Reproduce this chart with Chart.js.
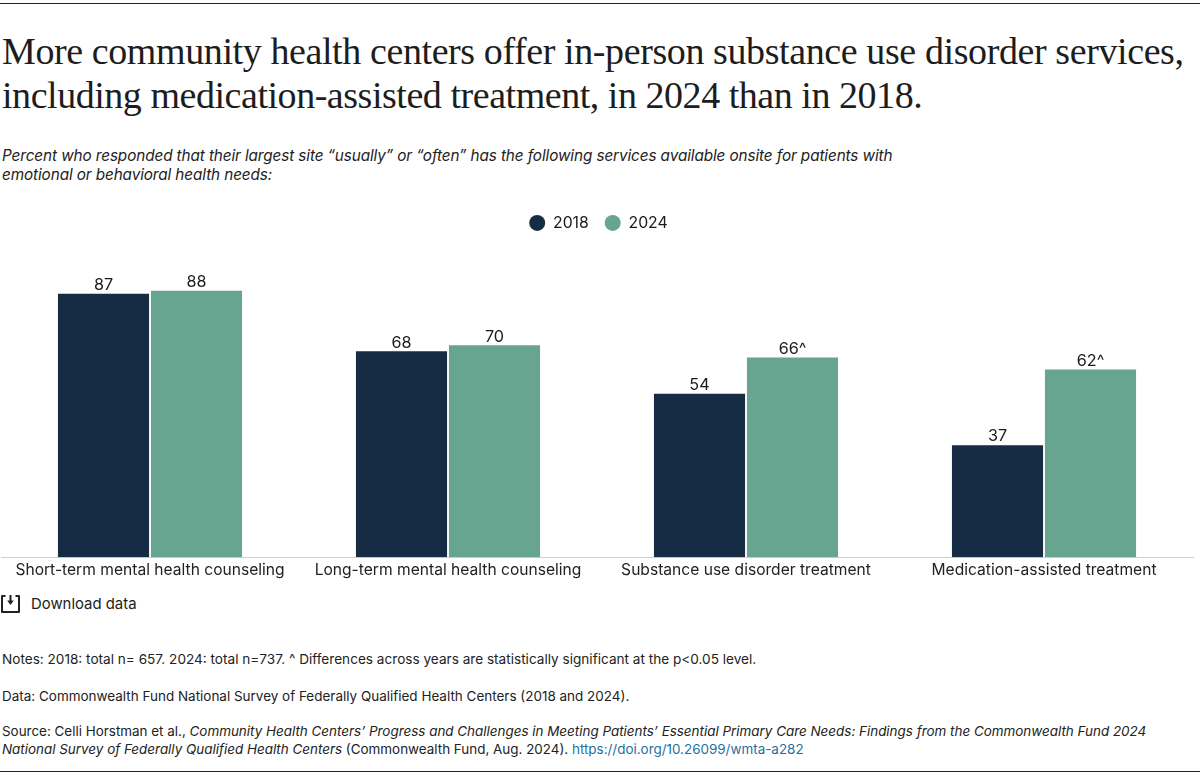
<!DOCTYPE html>
<html><head><meta charset="utf-8">
<script src="https://cdn.jsdelivr.net/npm/chart.js@4"></script>
<style>
html,body{margin:0;padding:0;background:#fff;width:1200px;height:775px;overflow:hidden}
body{position:relative;font-family:Inter,sans-serif;color:#1b1b1b}
.abs{position:absolute;white-space:nowrap}
.rule{position:absolute;left:0;width:1200px;height:1px;background:#222}
#title{left:2px;top:29px;font:38px/44px "Liberation Serif",serif;letter-spacing:-.4px;color:#1d1d1d}
#sub{left:2px;top:146px;font:italic 15.3px/19px Inter,sans-serif;letter-spacing:-.1px;color:#222}
#dl{left:31px;top:595px;font:14.9px/18px Inter,sans-serif;color:#222}
#icon{position:absolute;left:0;top:594px}
.note{left:2px;font:13.6px/18px Inter,sans-serif;color:#222}
a{color:#1f6f9f;text-decoration:none}
canvas{position:absolute;left:0;top:199px}
</style></head><body>
<div class="rule" style="top:3px"></div>
<div class="rule" style="top:771px"></div>
<div id="title" class="abs">More community health centers offer in-person substance use disorder services,<br><span style="letter-spacing:-.46px">including medication-assisted treatment, in 2024 than in 2018.</span></div>
<div id="sub" class="abs">Percent who responded that their largest site “usually” or “often” has the following services available onsite for patients with<br>emotional or behavioral health needs:</div>
<canvas id="c" width="1200" height="385"></canvas>
<svg id="icon" width="22" height="20" viewBox="0 0 22 20" fill="none" stroke="#222" stroke-width="2" stroke-linejoin="round"><path d="M5.5 2H2v16h17V2h-3.5"/><path d="M10.5 1v7"/><path d="M7.2 6.5h6.6L10.5 11z" fill="#222" stroke="none"/></svg>
<div id="dl" class="abs">Download data</div>
<div class="abs note" style="top:650px">Notes: 2018: total n= 657. 2024: total n=737. ^ Differences across years are statistically significant at the p&lt;0.05 level.</div>
<div class="abs note" style="top:687px;font-size:13.47px">Data: Commonwealth Fund National Survey of Federally Qualified Health Centers (2018 and 2024).</div>
<div class="abs note" style="top:722px;font-size:13.43px">Source: Celli Horstman et al., <i>Community Health Centers’ Progress and Challenges in Meeting Patients’ Essential Primary Care Needs: Findings from the Commonwealth Fund 2024</i><br><i>National Survey of Federally Qualified Health Centers</i> (Commonwealth Fund, Aug. 2024). <a href="#">https://doi.org/10.26099/wmta-a282</a></div>
<script>
const categories = ["Short-term mental health counseling","Long-term mental health counseling","Substance use disorder treatment","Medication-assisted treatment"];
const values2018 = [87,68,54,37];
const values2024 = [88,70,66,62];
const labels2018 = ["87","68","54","37"];
const labels2024 = ["88","70","66^","62^"];
const seriesLabels = {"2018":labels2018,"2024":labels2024};

const valueLabels = {
  id:'valueLabels',
  afterLayout(chart){
    chart.legend.left += 1.5;
    chart.legend.right += 1.5;
  },
  afterDatasetsDraw(chart){
    const ctx=chart.ctx;
    ctx.save();
    ctx.font='16.2px Inter, sans-serif';
    ctx.fillStyle='#1b1b1b';
    ctx.textAlign='center';
    ctx.textBaseline='bottom';
    chart.data.datasets.forEach((ds,i)=>{
      chart.getDatasetMeta(i).data.forEach((bar,j)=>{
        ctx.fillText(seriesLabels[ds.label][j],bar.x,bar.y-0.5);
      });
    });
    ctx.restore();
  }
};

new Chart(document.getElementById('c'),{
  type:'bar',
  data:{labels:categories,datasets:[
    {label:'2018',data:values2018,backgroundColor:'#162c45',categoryPercentage:.624,barPercentage:.98},
    {label:'2024',data:values2024,backgroundColor:'#67a591',categoryPercentage:.624,barPercentage:.98}
  ]},
  options:{
    responsive:false,animation:false,
    layout:{padding:{left:1,right:7,top:0,bottom:0}},
    plugins:{
      tooltip:{enabled:false},
      legend:{position:'top',align:'center',labels:{usePointStyle:true,pointStyle:'circle',boxWidth:16,boxHeight:11.3,padding:16,color:'#1b1b1b',font:{family:'Inter, sans-serif',size:15.8}}}
    },
    scales:{
      x:{grid:{display:false,drawTicks:false},border:{color:'#cfcfcf'},ticks:{color:'#222',font:{family:'Inter, sans-serif',size:15.6},padding:4,maxRotation:0,autoSkip:false}},
      y:{display:false,min:0,max:104.5}
    }
  },
  plugins:[valueLabels]
});
</script>
</body></html>
